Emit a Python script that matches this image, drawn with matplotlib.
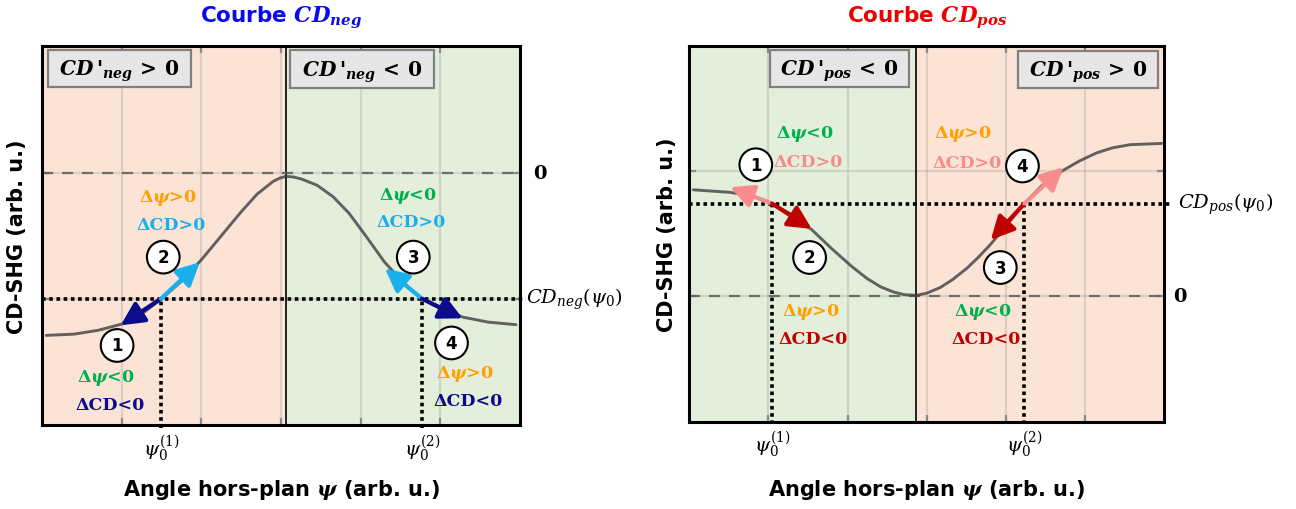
import matplotlib
matplotlib.use("Agg")
import matplotlib.pyplot as plt
from matplotlib.patches import Rectangle

# ---------------- data ----------------
psi_neg = [0.05, 0.4, 0.7, 1.0, 1.25, 1.5, 1.75, 2.0, 2.25, 2.5, 2.7, 2.9, 2.98, 3.06,
           3.15, 3.25, 3.45, 3.65, 3.85, 4.05, 4.3, 4.55, 4.77, 5.0, 5.28, 5.6, 5.95]
cd_neg = [0.71, 0.72, 0.75, 0.80, 0.88, 1.00, 1.14, 1.31, 1.50, 1.69, 1.83, 1.93, 1.955, 1.97,
          1.965, 1.95, 1.90, 1.81, 1.68, 1.51, 1.29, 1.12, 1.00, 0.92, 0.855, 0.815, 0.795]

psi_pos = [0.05, 0.51, 0.8, 1.045, 1.3, 1.55, 1.8, 2.05, 2.24, 2.42, 2.58, 2.72, 2.87,
           3.0, 3.17, 3.33, 3.51, 3.65, 3.80, 4.0, 4.235, 4.45, 4.71, 4.93, 5.15, 5.35, 5.57, 5.97]
cd_pos = [1.85, 1.83, 1.80, 1.74, 1.65, 1.53, 1.38, 1.24, 1.145, 1.075, 1.035, 1.013, 1.008,
          1.025, 1.07, 1.135, 1.225, 1.31, 1.41, 1.56, 1.74, 1.88, 2.0, 2.08, 2.145, 2.185, 2.21, 2.22]

psi0_neg = [1.49, 4.77]          # working points on CD_neg
psi0_pos = [1.045, 4.235]        # working points on CD_pos
cd0_neg = 1.0                    # CD_neg(psi0)
cd0_pos = 1.74                   # CD_pos(psi0)
zero_neg = 2.0                   # level of CD = 0 (neg panel)
zero_pos = 1.0                   # level of CD = 0 (pos panel)
split_neg = 3.06                 # sign change of CD'_neg
split_pos = 2.87                 # sign change of CD'_pos

# arrow tips (psi, CD) for the four displacements of each panel
tips_neg = [(0.985, 0.79), (1.98, 1.29), (4.305, 1.24), (5.28, 0.845)]
tips_pos = [(0.515, 1.87), (1.547, 1.538), (3.81, 1.45), (4.73, 2.03)]

psi0_ticklabels = [r"$\psi_0^{(1)}$", r"$\psi_0^{(2)}$"]

# ---------------- style ----------------
plt.rcParams["mathtext.fontset"] = "custom"
plt.rcParams["mathtext.it"] = "DejaVu Serif:italic:bold"
plt.rcParams["mathtext.rm"] = "DejaVu Serif:bold"
plt.rcParams["mathtext.bf"] = "DejaVu Serif:bold"
plt.rcParams["mathtext.sf"] = "DejaVu Serif:bold"
plt.rcParams["mathtext.cal"] = "DejaVu Serif:italic:bold"
plt.rcParams["font.family"] = ["DejaVu Sans"]

PEACH = "#FBE4D6"
GREENBG = "#E3EFDA"
NAVY = "#0B0B8C"
LBLUE = "#1AB0EC"
DRED = "#C00000"
PINK = "#F88C8C"
ORANGE = "#FFA000"
GREENT = "#00B050"
CURVE = "#3a3a3a"

fig = plt.figure(figsize=(12.96, 5.10), dpi=100)
axL = fig.add_axes([0.0326, 0.1647, 0.3686, 0.7425])
axR = fig.add_axes([0.5319, 0.1712, 0.3663, 0.7373])


def base(ax, left_col, right_col, split, zero, cd0, psi0, psi, cd):
    ax.set_xlim(0, 6)
    ax.set_ylim(0, 3)
    ax.axvspan(0, split, color=left_col, zorder=0, lw=0)
    ax.axvspan(split, 6, color=right_col, zorder=0, lw=0)
    ax.set_axisbelow(True)
    ax.set_xticks([1, 2, 3, 4, 5])
    ax.set_yticks([1, 2])
    ax.grid(True, color="#7f7f7f", alpha=0.22, lw=1.6)
    ax.tick_params(which="major", direction="in", length=5, width=1.6,
                   color="#8a8a8a", top=True, right=True,
                   labelbottom=False, labelleft=False)
    ax.set_xticks(psi0, psi0_ticklabels, minor=True)
    ax.tick_params(which="minor", length=0, pad=5, labelsize=14)
    for lbl in ax.get_xticklabels(minor=True):
        lbl.set_math_fontfamily("dejavuserif")
    for s in ax.spines.values():
        s.set_linewidth(2.2)
        s.set_color("black")
    ax.axvline(split, color="black", lw=1.2, zorder=1.5)
    ax.axhline(zero, color="#5a5a5a", alpha=0.85, lw=1.6, dashes=(5, 4), zorder=2)
    ax.plot([0, 6.08], [cd0, cd0], color="black", lw=2.6, ls=(0, (1, 1)),
            clip_on=False, zorder=3)
    for p in psi0:
        ax.plot([p, p], [-0.02, cd0], color="black", lw=2.6, ls=(0, (1, 1)),
                clip_on=False, zorder=3)
    ax.plot(psi, cd, color=CURVE, alpha=0.78, lw=2.1, zorder=3,
            solid_capstyle="round", solid_joinstyle="round")


def arrow(ax, start, tip, col):
    ax.annotate("", xy=tip, xytext=start,
                arrowprops=dict(arrowstyle="-|>,head_length=0.7,head_width=0.35",
                                color=col, lw=3.0, shrinkA=0, shrinkB=0,
                                mutation_scale=20),
                zorder=4)


def circ(ax, x, y, s):
    ax.text(x, y, s, ha="center", va="center", fontsize=12, fontweight="bold",
            family="DejaVu Sans",
            bbox=dict(boxstyle="circle,pad=0.44", fc="white", ec="black", lw=1.5),
            zorder=6)


def note(ax, x, y, s, col):
    ax.text(x, y, s, ha="center", va="center", fontsize=12.5, color=col,
            family="DejaVu Serif", fontweight="bold", zorder=5)


def box(ax, x0, x1, y0, y1, s):
    ax.add_patch(Rectangle((x0, y0), x1 - x0, y1 - y0, transform=ax.transAxes,
                           fc="#E6E6E6", ec="#808080", lw=1.6, zorder=5))
    ax.text((x0 + x1) / 2, (y0 + y1) / 2 - 0.005, s, transform=ax.transAxes,
            ha="center", va="center", fontsize=14.5, zorder=6)


DPSI = r"$\Delta\psi$"

# ---------------- left panel : CD_neg ----------------
base(axL, PEACH, GREENBG, split_neg, zero_neg, cd0_neg, psi0_neg, psi_neg, cd_neg)
p1 = (psi0_neg[0], cd0_neg)
p2 = (psi0_neg[1], cd0_neg)
arrow(axL, p1, tips_neg[0], NAVY)
arrow(axL, p1, tips_neg[1], LBLUE)
arrow(axL, p2, tips_neg[2], LBLUE)
arrow(axL, p2, tips_neg[3], NAVY)
circ(axL, 0.94, 0.63, "1")
circ(axL, 1.52, 1.33, "2")
circ(axL, 4.66, 1.33, "3")
circ(axL, 5.14, 0.65, "4")
note(axL, 1.58, 1.81, DPSI + ">0", ORANGE)
note(axL, 1.62, 1.59, "ΔCD>0", LBLUE)
note(axL, 4.59, 1.82, DPSI + "<0", GREENT)
note(axL, 4.63, 1.61, "ΔCD>0", LBLUE)
note(axL, 0.80, 0.38, DPSI + "<0", GREENT)
note(axL, 0.85, 0.165, "ΔCD<0", NAVY)
note(axL, 5.31, 0.41, DPSI + ">0", ORANGE)
note(axL, 5.35, 0.195, "ΔCD<0", NAVY)
box(axL, 0.0113, 0.311, 0.893, 0.991, r"$CD\,'_{neg}\,>\,0$")
box(axL, 0.5185, 0.820, 0.890, 0.991, r"$CD\,'_{neg}\,<\,0$")
axL.text(1.027, zero_neg, "0", transform=axL.get_yaxis_transform(),
         ha="left", va="center", fontsize=14, fontweight="bold",
         family="DejaVu Serif")
t = axL.text(1.012, cd0_neg, r"$CD_{neg}(\psi_0)$", transform=axL.get_yaxis_transform(),
             ha="left", va="center", fontsize=14)
t.set_math_fontfamily("dejavuserif")
axL.text(0.5, 1.077, r"Courbe $CD_{neg}$", transform=axL.transAxes, ha="center",
         va="center", fontsize=15.5, fontweight="bold", color="#0A0AF0")
axL.set_xlabel(r"Angle hors-plan $\psi$ (arb. u.)", fontsize=15, fontweight="bold")
axL.xaxis.set_label_coords(0.5, -0.169)
axL.xaxis.label.set_va("center")
axL.set_ylabel("CD-SHG (arb. u.)", fontsize=15, fontweight="bold")
axL.yaxis.set_label_coords(-0.053, 0.5)
axL.yaxis.label.set_va("center")

# ---------------- right panel : CD_pos ----------------
base(axR, GREENBG, PEACH, split_pos, zero_pos, cd0_pos, psi0_pos, psi_pos, cd_pos)
q1 = (psi0_pos[0], cd0_pos)
q2 = (psi0_pos[1], cd0_pos)
arrow(axR, q1, tips_pos[0], PINK)
arrow(axR, q1, tips_pos[1], DRED)
arrow(axR, q2, tips_pos[2], DRED)
arrow(axR, q2, tips_pos[3], PINK)
circ(axR, 0.84, 2.05, "1")
circ(axR, 1.52, 1.31, "2")
circ(axR, 3.93, 1.23, "3")
circ(axR, 4.21, 2.04, "4")
note(axR, 1.46, 2.30, DPSI + "<0", GREENT)
note(axR, 1.50, 2.075, "ΔCD>0", PINK)
note(axR, 3.46, 2.30, DPSI + ">0", ORANGE)
note(axR, 3.51, 2.07, "ΔCD>0", PINK)
note(axR, 1.53, 0.886, DPSI + ">0", ORANGE)
note(axR, 1.57, 0.66, "ΔCD<0", DRED)
note(axR, 3.71, 0.886, DPSI + "<0", GREENT)
note(axR, 3.75, 0.66, "ΔCD<0", DRED)
box(axR, 0.170, 0.4635, 0.889, 0.9886, r"$CD\,'_{pos}\,<\,0$")
box(axR, 0.6924, 0.9867, 0.8875, 0.9867, r"$CD\,'_{pos}\,>\,0$")
axR.text(1.019, zero_pos, "0", transform=axR.get_yaxis_transform(),
         ha="left", va="center", fontsize=14, fontweight="bold",
         family="DejaVu Serif")
t = axR.text(1.029, cd0_pos, r"$CD_{pos}(\psi_0)$", transform=axR.get_yaxis_transform(),
             ha="left", va="center", fontsize=14)
t.set_math_fontfamily("dejavuserif")
axR.text(0.5, 1.077, r"Courbe $CD_{pos}$", transform=axR.transAxes, ha="center",
         va="center", fontsize=15.5, fontweight="bold", color="#EE0000")
axR.set_xlabel(r"Angle hors-plan $\psi$ (arb. u.)", fontsize=15, fontweight="bold")
axR.xaxis.set_label_coords(0.5, -0.179)
axR.xaxis.label.set_va("center")
axR.set_ylabel("CD-SHG (arb. u.)", fontsize=15, fontweight="bold")
axR.yaxis.set_label_coords(-0.047, 0.5)
axR.yaxis.label.set_va("center")

fig.savefig("out.png", dpi=100)
